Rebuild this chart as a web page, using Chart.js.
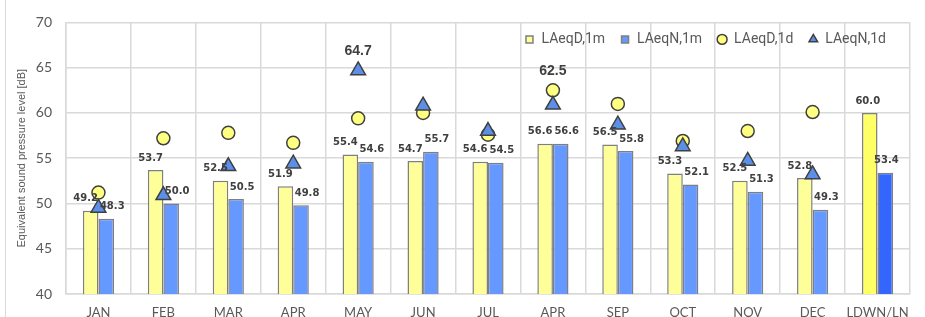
<!DOCTYPE html>
<html lang="en">
<head>
  <meta charset="UTF-8" />
  <title>Equivalent sound pressure level</title>
  <script src="https://cdn.jsdelivr.net/npm/chart.js"></script>
  <style>
    body { margin: 0; padding: 0; background: #fff; }
    .wrap { position: relative; width: 925px; height: 317px; }
    .edge { position: absolute; left: 5px; top: 0; bottom: 0; border-left: 1px solid #d9d9d9; }
  </style>
</head>
<body>
  <div class="wrap">
    <div class="edge"></div>
    <canvas id="grafico" width="925" height="317"></canvas>
  </div>

  <script>
    const months = ['JAN', 'FEB', 'MAR', 'APR', 'MAY', 'JUN', 'JUL', 'APR', 'SEP', 'OCT', 'NOV', 'DEC', 'LDWN/LN'];
    const day1m = [49.2, 53.7, 52.5, 51.9, 55.4, 54.7, 54.6, 56.6, 56.5, 53.3, 52.5, 52.8, 60.0];
    const night1m = [48.3, 50.0, 50.5, 49.8, 54.6, 55.7, 54.5, 56.6, 55.8, 52.1, 51.3, 49.3, 53.4];
    const day1d = [51.2, 57.2, 57.8, 56.7, 59.4, 60.0, 57.6, 62.5, 61.0, 56.9, 58.0, 60.1, null];
    const night1d = [49.5, 50.9, 54.1, 54.4, 64.7, 60.8, 58.0, 60.9, 58.7, 56.3, 54.7, 53.2, null];
    // only these point values get a label
    const day1dLabeled = [7];
    const night1dLabeled = [4];

    const yellow = months.map((m, i) => i === months.length - 1 ? '#ffff66' : '#ffff99');
    const blue = months.map((m, i) => i === months.length - 1 ? '#3366ff' : '#6699ff');

    const grid = '#d9d9d9';
    const txt = '#595959';

    // legenda por cima da área do gráfico (não ocupa espaço)
    const legendaDentro = {
      id: 'legendaDentro',
      afterInit(chart) {
        const lg = chart.legend;
        const fit = lg.fit;
        const draw = lg.draw;
        lg.fit = function () { fit.call(this); this._altura = this.height; this.height = 0; };
        lg.draw = function () {
          const { top, left, right } = this;
          this.top = top - 5;
          this.left = left - 9;
          this.right = right - 9;
          this.bottom = this.top + this._altura;
          draw.call(this);
          this.top = top; this.left = left; this.right = right; this.bottom = top;
        };
      }
    };

    const rotulos = {
      id: 'rotulos',
      afterDatasetsDraw(chart) {
        const ctx = chart.ctx;
        const last = months.length - 1;
        ctx.save();
        ctx.fillStyle = '#404040';
        ctx.textAlign = 'center';
        ctx.textBaseline = 'middle';
        ctx.font = 'bold 10px "DejaVu Sans"';
        [0, 1].forEach(d => {
          chart.getDatasetMeta(d).data.forEach((bar, i) => {
            const v = chart.data.datasets[d].data[i];
            let dx = d === 0 ? -5 : 6;
            if (i === last) dx = d === 0 ? -2 : 1;
            ctx.fillText(v.toFixed(1), bar.x + dx, bar.y - 12);
          });
        });
        ctx.font = 'bold 14px "Liberation Sans"';
        [[2, day1dLabeled], [3, night1dLabeled]].forEach(([d, idx]) => {
          const meta = chart.getDatasetMeta(d);
          idx.forEach(i => {
            const p = meta.data[i];
            ctx.fillText(chart.data.datasets[d].data[i].toFixed(1), p.x, p.y - 19);
          });
        });
        ctx.restore();
      }
    };

    new Chart(document.getElementById('grafico').getContext('2d'), {
      data: {
        labels: months,
        datasets: [
          {
            type: 'bar', label: 'LAeqD,1m', data: day1m, order: 2,
            backgroundColor: yellow, borderColor: '#7f7f7f', borderWidth: 1.5,
            pointStyle: 'rect', categoryPercentage: 0.48, barPercentage: 1
          },
          {
            type: 'bar', label: 'LAeqN,1m', data: night1m, order: 2,
            backgroundColor: blue, borderColor: '#7f7f7f', borderWidth: 1.5,
            pointStyle: 'rect', categoryPercentage: 0.48, barPercentage: 1
          },
          {
            type: 'line', label: 'LAeqD,1d', data: day1d, order: 1, showLine: false,
            pointStyle: 'circle', pointRadius: 6.5, pointHoverRadius: 6.5,
            backgroundColor: '#ffff80', borderColor: '#404040', pointBorderWidth: 1.5
          },
          {
            type: 'line', label: 'LAeqN,1d', data: night1d, order: 0, showLine: false,
            pointStyle: 'triangle', pointRadius: 8.5, pointHoverRadius: 8.5,
            backgroundColor: '#5b8fe8', borderColor: '#404040', pointBorderWidth: 1.5
          }
        ]
      },
      options: {
        responsive: false,
        animation: false,
        layout: { padding: { top: 15, right: 15, left: 15, bottom: 0 } },
        plugins: {
          tooltip: { enabled: false },
          legend: {
            position: 'top',
            align: 'end',
            labels: {
              usePointStyle: true,
              boxHeight: 7,
              boxWidth: 10,
              padding: 15,
              color: txt,
              font: { family: 'Roboto', size: 14 },
              sort: (a, b) => a.datasetIndex - b.datasetIndex
            }
          }
        },
        scales: {
          x: {
            offset: true,
            grid: { color: grid, lineWidth: 1.5, offset: true, drawTicks: false },
            border: { color: grid, width: 1.5 },
            ticks: { color: txt, font: { family: 'Lato', size: 13 }, padding: 11, maxRotation: 0, autoSkip: false },
            afterFit: s => { s.height = 23; }
          },
          y: {
            min: 40, max: 70,
            grid: { color: grid, lineWidth: 1.5, drawTicks: false },
            border: { color: grid, width: 1.5 },
            ticks: { stepSize: 5, color: txt, font: { family: 'Lato', size: 14 }, padding: 14 },
            title: {
              display: true, text: 'Equivalent sound pressure level [dB]',
              color: txt, font: { family: 'Liberation Sans', size: 11 }, padding: 0
            },
            afterFit: s => { s.width = 51; }
          }
        }
      },
      plugins: [legendaDentro, rotulos]
    });
  </script>
</body>
</html>
